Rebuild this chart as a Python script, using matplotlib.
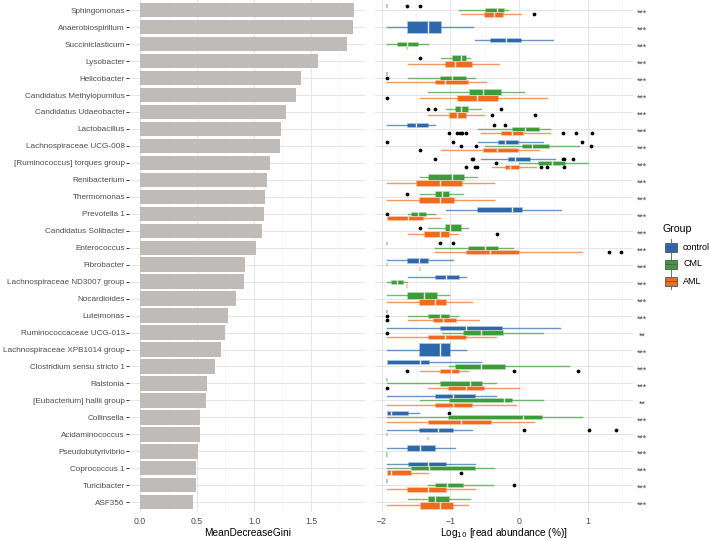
import matplotlib
matplotlib.use('Agg')
import matplotlib.pyplot as plt
import matplotlib.colors as mcolors
from matplotlib.transforms import blended_transform_factory
from matplotlib.patches import Rectangle
from matplotlib.lines import Line2D

plt.rcParams['font.family'] = ['Liberation Sans', 'DejaVu Sans']

# ---------------- data ----------------
genera = ["Sphingomonas", "Anaerobiospirillum", "Succiniclasticum", "Lysobacter",
          "Helicobacter", "Candidatus Methylopumilus", "Candidatus Udaeobacter",
          "Lactobacillus", "Lachnospiraceae UCG-008", "[Ruminococcus] torques group",
          "Renibacterium", "Thermomonas", "Prevotella 1", "Candidatus Solibacter",
          "Enterococcus", "Fibrobacter", "Lachnospiraceae ND3007 group", "Nocardioides",
          "Luteimonas", "Ruminococcaceae UCG-013", "Lachnospiraceae XPB1014 group",
          "Clostridium sensu stricto 1", "Ralstonia", "[Eubacterium] hallii group",
          "Collinsella", "Acidaminococcus", "Pseudobutyrivibrio", "Coprococcus 1",
          "Turicibacter", "ASF356"]

gini = [1.88, 1.866, 1.82, 1.56, 1.41, 1.37, 1.28, 1.24, 1.23, 1.14,
        1.11, 1.10, 1.09, 1.07, 1.02, 0.92, 0.915, 0.84, 0.77, 0.75,
        0.71, 0.66, 0.585, 0.576, 0.53, 0.528, 0.506, 0.494, 0.488, 0.468]

# box stats (whislo, q1, median, q3, whishi); a single float = collapsed box; None = absent
control_box = [-1.92, (-1.92, -1.63, -1.33, -1.14, -0.67), (-0.65, -0.43, -0.19, 0.02, 0.49), None,
               -1.92, None, None, (-1.92, -1.63, -1.50, -1.33, -1.23),
               (-0.60, -0.31, -0.20, -0.02, 0.35), (-0.56, -0.17, -0.06, 0.15, 0.52),
               None, None, (-1.07, -0.61, -0.11, 0.04, 0.61), None, -1.92,
               (-1.92, -1.63, -1.46, -1.32, -0.97), (-1.62, -1.23, -1.07, -0.88, -0.78), None,
               -1.92, (-1.92, -1.15, -0.78, -0.25, 0.59), (-1.92, -1.46, -1.15, -1.00, -0.78),
               (-1.92, -1.92, -1.45, -1.31, -0.55), -1.92, (-1.92, -1.23, -0.96, -0.65, -0.34),
               (-1.92, -1.92, -1.86, -1.62, -1.46), (-1.92, -1.46, -1.18, -0.97, -0.69),
               (-1.92, -1.63, -1.45, -1.22, -0.93), (-1.92, -1.62, -1.32, -1.06, -0.64),
               -1.92, None]

cml_box = [(-0.88, -0.50, -0.32, -0.22, -0.16), None, (-1.92, -1.78, -1.63, -1.47, -1.33),
           (-1.14, -0.98, -0.85, -0.77, -0.72), (-1.62, -1.15, -0.98, -0.78, -0.65),
           (-1.33, -0.73, -0.52, -0.26, 0.07), (-1.07, -0.93, -0.85, -0.74, -0.56),
           (-0.60, -0.10, 0.09, 0.29, 0.45), (-0.50, 0.04, 0.18, 0.43, 0.87),
           (0.0, 0.28, 0.47, 0.66, 1.00), (-1.45, -1.33, -0.98, -0.80, -0.62),
           (-1.45, -1.23, -1.13, -1.02, -0.82), (-1.62, -1.58, -1.47, -1.35, -1.23),
           (-1.33, -1.08, -1.01, -0.84, -0.75), (-1.23, -0.75, -0.50, -0.31, -0.09),
           -1.92, (-1.92, -1.86, -1.78, -1.69, -1.63), (-1.92, -1.63, -1.38, -1.20, -1.02),
           (-1.62, -1.33, -1.15, -1.02, -0.89), (-1.13, -0.82, -0.55, -0.23, 0.35), None,
           (-1.02, -0.93, -0.56, -0.21, 0.73), (-1.92, -1.15, -0.72, -0.54, -0.34),
           (-1.45, -1.02, -0.22, -0.10, 0.35), (-1.92, -1.03, 0.06, 0.33, 0.91),
           -1.92, -1.92, (-1.92, -1.57, -1.31, -0.64, -0.37),
           (-1.33, -1.23, -1.05, -0.82, -0.38), (-1.62, -1.33, -1.23, -1.02, -0.72)]

aml_box = [(-0.84, -0.51, -0.36, -0.23, 0.03), None, -1.63, (-1.62, -1.08, -0.94, -0.68, -0.30),
           (-1.92, -1.23, -1.08, -0.74, -0.49), (-1.45, -0.90, -0.62, -0.31, 0.41),
           (-1.32, -1.02, -0.90, -0.78, -0.51), (-0.56, -0.26, -0.10, 0.05, 0.45),
           (-1.14, -0.53, -0.33, -0.02, 0.29), (-0.40, -0.21, -0.14, 0.0, 0.24),
           (-1.92, -1.50, -1.15, -0.83, -0.37), (-1.92, -1.46, -1.15, -0.95, -0.37),
           (-1.92, -1.92, -1.62, -1.40, -1.15), (-1.62, -1.38, -1.15, -1.02, -0.89),
           (-1.23, -0.78, -0.43, 0.0, 0.91), -1.45, -1.63, (-1.92, -1.46, -1.23, -1.07, -0.69),
           (-1.62, -1.25, -1.11, -0.92, -0.58), (-1.92, -1.33, -1.08, -0.78, -0.34), None,
           (-1.45, -1.15, -0.99, -0.87, -0.75), (-1.33, -1.03, -0.78, -0.51, 0.0),
           (-1.92, -1.23, -0.97, -0.68, -0.04), (-1.92, -1.33, -0.84, -0.41, 0.21),
           -1.33, None, (-1.92, -1.92, -1.86, -1.58, -1.33),
           (-1.92, -1.63, -1.33, -1.07, -0.65), (-1.92, -1.45, -1.15, -0.97, -0.75)]

control_out = {0: [-1.63, -1.45], 7: [-0.37, -0.21], 8: [-1.92, -0.97, 0.92],
               9: [-1.23, -0.69, -0.67, 0.63, 0.65, 0.78], 14: [-1.15, -0.97],
               24: [-1.02], 25: [0.07, 1.01, 1.41]}
cml_out = {3: [-1.45], 4: [-1.92], 6: [-1.33, -1.23, -0.27], 8: [-0.84, -0.63, 1.05],
           9: [-0.34], 11: [-1.63], 12: [-1.92], 13: [-1.45], 18: [-1.92], 19: [-1.92],
           28: [-0.08]}
aml_out = {0: [0.22], 5: [-1.92], 6: [-0.40, 0.23],
           7: [-1.02, -0.90, -0.86, -0.83, -0.78, 0.64, 0.82, 1.06], 8: [-1.45],
           9: [-0.78, -0.65, -0.62, 0.32, 0.41, 0.65], 13: [-0.32], 14: [1.30, 1.48],
           18: [-1.92], 21: [-1.63, -0.08, 0.86], 22: [-1.92], 27: [-0.84]}

signif = ["***"] * 19 + ["**"] + ["***"] * 3 + ["**"] + ["***"] * 6

group_names = ["control", "CML", "AML"]
group_colors = ["#2d68ad", "#3c9c3a", "#f26b1c"]

# ---------------- layout ----------------
W, H = 709, 540
fig = plt.figure(figsize=(W / 100, H / 100), dpi=100)


def px_axes(x0, y0, x1, y1):
    return fig.add_axes([x0 / W, 1 - y1 / H, (x1 - x0) / W, (y1 - y0) / H])


n = len(genera)
ax1 = px_axes(129.3, 0, 365, 512.4)
ax2 = px_axes(375.5, 0, 632.7, 512.4)

for ax in (ax1, ax2):
    ax.set_ylim(n - 1 + 0.6, -0.6)
    for s in ax.spines.values():
        s.set_visible(False)
    ax.set_axisbelow(True)
    ax.grid(True, which='major', color='#e6e6e6', lw=0.8)
    ax.grid(True, which='minor', axis='x', color='#f3f3f3', lw=0.5)

# ---- left: bar chart ----
ax1.barh(range(n), gini, height=0.85, color='#bfbbb9')
ax1.set_xlim(-0.094, 1.974)
ax1.set_xticks([0, 0.5, 1.0, 1.5])
ax1.set_xticklabels(["0.0", "0.5", "1.0", "1.5"])
ax1.set_xticks([0.25, 0.75, 1.25, 1.75], minor=True)
ax1.set_yticks(range(n))
ax1.set_yticklabels(genera)
ax1.tick_params(axis='y', length=2.2, width=0.7, color='#333333', pad=1.0,
                labelsize=5.85, labelcolor='#4d4d4d')
ax1.tick_params(axis='x', which='both', length=0, pad=3, labelsize=6.3, labelcolor='#4d4d4d')
ax1.set_xlabel("MeanDecreaseGini", fontsize=7.3, labelpad=1.5)

# ---- right: boxplots ----
ax2.set_xlim(-2.09, 1.65)
ax2.set_xticks([-2, -1, 0, 1])
ax2.set_xticks([-1.5, -0.5, 0.5, 1.5], minor=True)
ax2.set_yticks(range(n))
ax2.set_yticklabels([])
ax2.tick_params(axis='y', length=0)
ax2.tick_params(axis='x', which='both', length=0, pad=3, labelsize=6.3, labelcolor='#4d4d4d')
ax2.set_xlabel("Log$_{10}$ [read abundance (%)]", fontsize=7.3, labelpad=0.3)

groups_box = [control_box, cml_box, aml_box]
groups_out = [control_out, cml_out, aml_out]
total_w = 0.75


def lighten(c, amt):
    r, g, b = mcolors.to_rgb(c)
    return (r + (1 - r) * amt, g + (1 - g) * amt, b + (1 - b) * amt)


for i in range(n):
    present = [g for g in range(3) if groups_box[g][i] is not None]
    k = len(present)
    slot = total_w / k
    for j, g in enumerate(present):
        pos = i - total_w / 2 + slot * (j + 0.5)
        s = groups_box[g][i]
        col = group_colors[g]
        pale = lighten(col, 0.62)
        fl = groups_out[g].get(i, [])
        if isinstance(s, tuple):
            st = dict(whislo=s[0], q1=s[1], med=s[2], q3=s[3], whishi=s[4], fliers=fl)
            ax2.bxp([st], positions=[pos], widths=slot * 0.98, orientation='horizontal',
                    patch_artist=True, showcaps=False, showfliers=True,
                    boxprops=dict(facecolor=col, edgecolor=pale, lw=0.6),
                    whiskerprops=dict(color=col, alpha=0.7, lw=1.0),
                    medianprops=dict(color='#f0f0f0', lw=1.0),
                    flierprops=dict(marker='o', markerfacecolor='black',
                                    markeredgecolor='none', markersize=2.7),
                    manage_ticks=False)
        else:
            st = dict(whislo=s, q1=s, med=s, q3=s, whishi=s, fliers=fl)
            ax2.bxp([st], positions=[pos], widths=slot * 0.8, orientation='horizontal',
                    patch_artist=True, showcaps=False, showfliers=True,
                    boxprops=dict(facecolor=pale, edgecolor=lighten(col, 0.55), lw=1.3),
                    whiskerprops=dict(color=pale, lw=0.8),
                    medianprops=dict(color=lighten(col, 0.72), lw=0.6),
                    flierprops=dict(marker='o', markerfacecolor='black',
                                    markeredgecolor='none', markersize=2.7),
                    manage_ticks=False)

# significance stars
tr = blended_transform_factory(fig.transFigure, ax2.transData)
for i, s in enumerate(signif):
    ax2.text(641.7 / W, i + 0.2, s, transform=tr, ha='center', va='center',
             fontsize=6.3, color='#444444', clip_on=False)

# ---- legend ----
lax = px_axes(655, 215, 709, 295)
lax.set_xlim(655, 709)
lax.set_ylim(295, 215)
lax.axis('off')
lax.text(662.5, 229, "Group", fontsize=7.6, va='center', ha='left')
for k, (name, col) in enumerate(zip(group_names, group_colors)):
    yc = 247 + 17 * k
    lax.add_patch(Rectangle((665, yc - 4.5), 12, 9, facecolor=col, edgecolor='#555555', lw=0.6))
    lax.add_line(Line2D([671, 671], [yc - 8, yc - 4.5], color='#555555', lw=0.6))
    lax.add_line(Line2D([671, 671], [yc + 4.5, yc + 8], color='#555555', lw=0.6))
    lax.add_line(Line2D([665, 677], [yc, yc], color='#555555', lw=0.6))
    lax.text(683, yc, name, fontsize=6.5, va='center', ha='left')

fig.savefig("out.png", dpi=100)
